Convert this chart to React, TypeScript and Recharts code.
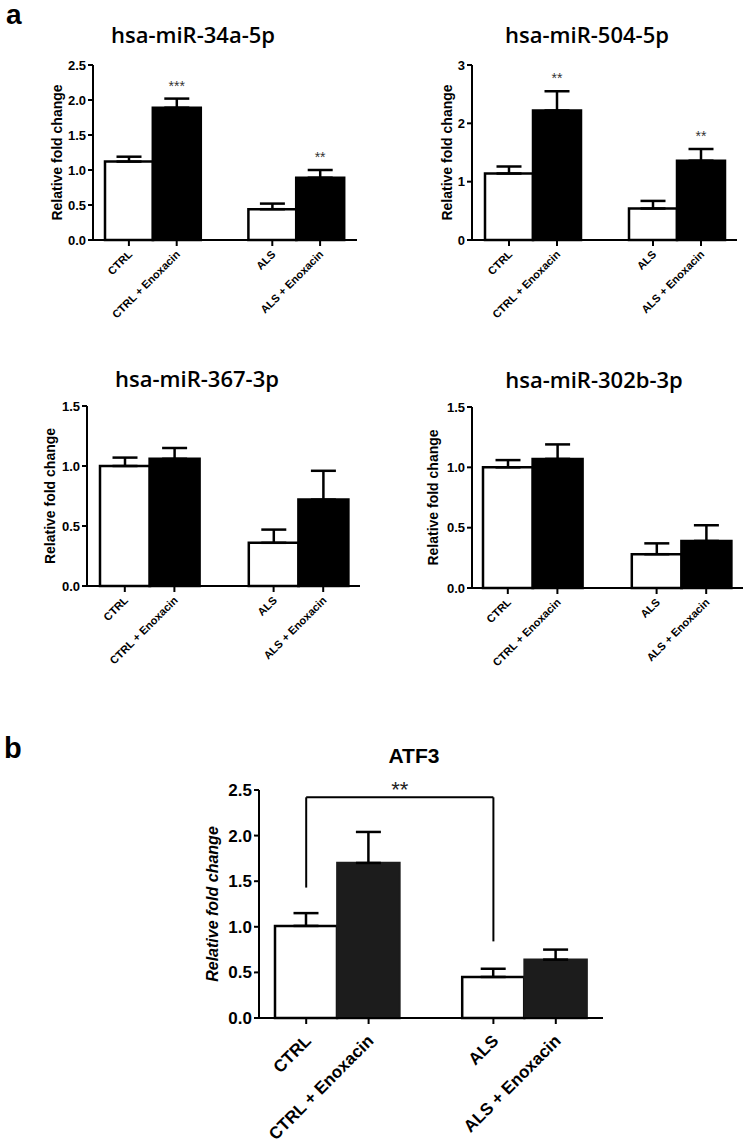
import React from "react";
import { BarChart, Bar, XAxis, YAxis, Cell, ErrorBar, ReferenceLine, ReferenceDot } from "recharts";

// groups on the x axis (same for every panel)
const groups = ["CTRL", "CTRL + Enoxacin", "ALS", "ALS + Enoxacin"];
const treated = [false, true, false, true];

// panel a
const mir34aMean = [1.12, 1.89, 0.44, 0.89];
const mir34aSem = [0.07, 0.13, 0.08, 0.11];
const mir34aStars = ["", "***", "", "**"];

const mir504Mean = [1.14, 2.22, 0.54, 1.36];
const mir504Sem = [0.12, 0.33, 0.13, 0.2];
const mir504Stars = ["", "**", "", "**"];

const mir367Mean = [1.0, 1.06, 0.36, 0.72];
const mir367Sem = [0.07, 0.09, 0.11, 0.24];

const mir302bMean = [1.0, 1.07, 0.28, 0.39];
const mir302bSem = [0.06, 0.12, 0.09, 0.13];

// panel b
const atf3Mean = [1.01, 1.7, 0.45, 0.64];
const atf3Sem = [0.14, 0.34, 0.09, 0.11];
const atf3BracketLevel = 2.42;
const atf3BracketEnds = [1.43, 0.84]; // CTRL side, ALS side
const atf3BracketLabel = "**";

const titles = ["hsa-miR-34a-5p", "hsa-miR-504-5p", "hsa-miR-367-3p", "hsa-miR-302b-3p", "ATF3"];
const yLabel = "Relative fold change";

const GAP = "gap";
const FONT = "Arial, 'Liberation Sans', Helvetica, sans-serif";
const TITLE_FONT = "'Open Sans', 'Noto Sans', sans-serif";

type Row = { name: string; value: number | null; err: number[] | null; star: string; treated: boolean };

function buildRows(mean: number[], sem: number[], stars?: string[]): Row[] {
  const rows = groups.map((name, i) => ({
    name,
    value: mean[i],
    err: [0, sem[i]],
    star: stars ? stars[i] : "",
    treated: treated[i],
  }));
  // empty slot between the CTRL and ALS pairs
  return [rows[0], rows[1], { name: GAP, value: null, err: null, star: "", treated: false }, rows[2], rows[3]];
}

const XTick = (props: any) => {
  const { x, y, payload, size, dx, dy } = props;
  if (!payload || payload.value === GAP) return null;
  return (
    <g transform={`translate(${x},${y})`}>
      <line x1={0} y1={0} x2={0} y2={6} stroke="#000" strokeWidth={2} />
      <text
        transform={`translate(${dx},${dy}) rotate(-45)`}
        textAnchor="end"
        fontFamily={FONT}
        fontWeight={700}
        fontSize={size}
        fill="#000"
      >
        {payload.value}
      </text>
    </g>
  );
};

interface Layout {
  left: number;
  top: number;
  width: number;
  height: number;
  margin: { top: number; right: number; bottom: number; left: number };
  yWidth: number;
  xHeight: number;
  padL: number;
  padR: number;
  yMax: number;
  ticks: number[];
  digits: number;
  tickSize: number;
  labelSize: number;
  xSize: number;
  xdx: number;
  xdy: number;
  italic?: boolean;
  dark: string;
}

const smallTicks15 = [0, 0.5, 1, 1.5];

const layouts: Layout[] = [
  {
    left: 0, top: 0, width: 375, height: 345,
    margin: { top: 65, right: 18, bottom: 0, left: 21 },
    yWidth: 72, xHeight: 105, padL: 12, padR: 13,
    yMax: 2.5, ticks: [0, 0.5, 1, 1.5, 2, 2.5], digits: 1,
    tickSize: 13, labelSize: 14, xSize: 11, xdx: 4, xdy: 15, dark: "#000",
  },
  {
    left: 375, top: 0, width: 375, height: 345,
    margin: { top: 65, right: 13, bottom: 0, left: 47 },
    yWidth: 50, xHeight: 105, padL: 13, padR: 12,
    yMax: 3, ticks: [0, 1, 2, 3], digits: 0,
    tickSize: 13, labelSize: 14, xSize: 11, xdx: 4, xdy: 15, dark: "#000",
  },
  {
    left: 0, top: 320, width: 375, height: 370,
    margin: { top: 86, right: 15, bottom: 0, left: 13 },
    yWidth: 74, xHeight: 104, padL: 13, padR: 12,
    yMax: 1.5, ticks: smallTicks15, digits: 1,
    tickSize: 13, labelSize: 14, xSize: 11, xdx: 4, xdy: 15, dark: "#000",
  },
  {
    left: 375, top: 320, width: 375, height: 370,
    margin: { top: 87, right: 7, bottom: 0, left: 19 },
    yWidth: 78, xHeight: 102, padL: 11, padR: 12,
    yMax: 1.5, ticks: smallTicks15, digits: 1,
    tickSize: 13, labelSize: 14, xSize: 11, xdx: 4, xdy: 15, dark: "#000",
  },
  {
    left: 150, top: 680, width: 470, height: 467,
    margin: { top: 110, right: 17, bottom: 0, left: 15 },
    yWidth: 94, xHeight: 129, padL: 16, padR: 16,
    yMax: 2.5, ticks: [0, 0.5, 1, 1.5, 2, 2.5], digits: 1,
    tickSize: 17, labelSize: 16, xSize: 17, xdx: 6, xdy: 24, italic: true, dark: "#1c1c1c",
  },
];

// title centre x and baseline y on the page
const titlePos = [
  [193, 43],
  [587, 43],
  [197, 387],
  [594, 388],
  [414, 763],
];

const Panel = ({ L, rows, children }: { L: Layout; rows: Row[]; children?: React.ReactNode }) => (
  <div style={{ position: "absolute", left: L.left, top: L.top }}>
    <BarChart width={L.width} height={L.height} data={rows} margin={L.margin} barCategoryGap={0} barGap={0}>
      <XAxis
        dataKey="name"
        interval={0}
        tickSize={0}
        tickMargin={0}
        tickLine={false}
        height={L.xHeight}
        padding={{ left: L.padL, right: L.padR }}
        axisLine={{ stroke: "#000", strokeWidth: 2 }}
        tick={<XTick size={L.xSize} dx={L.xdx} dy={L.xdy} />}
      />
      <YAxis
        width={L.yWidth}
        domain={[0, L.yMax]}
        ticks={L.ticks}
        interval={0}
        tickSize={5}
        tickMargin={2}
        tickFormatter={(v: number) => v.toFixed(L.digits)}
        axisLine={{ stroke: "#000", strokeWidth: 2 }}
        tickLine={{ stroke: "#000", strokeWidth: 2 }}
        tick={{ fill: "#000", fontSize: L.tickSize, fontWeight: 700, fontFamily: FONT }}
        label={{
          value: yLabel,
          angle: -90,
          position: "center",
          fill: "#000",
          fontSize: L.labelSize,
          fontWeight: 700,
          fontStyle: L.italic ? "italic" : "normal",
          fontFamily: FONT,
        }}
      />
      <Bar dataKey="value" isAnimationActive={false} stroke="#000" strokeWidth={2.5}>
        {rows.map((r, i) => (
          <Cell key={i} fill={r.treated ? L.dark : "#fff"} stroke={r.treated ? L.dark : "#000"} />
        ))}
        <ErrorBar dataKey="err" width={12.5} stroke="#000" strokeWidth={2.5} direction="y" isAnimationActive={false} />
      </Bar>
      {rows
        .filter((r) => r.star)
        .map((r) => (
          <ReferenceDot
            key={r.name}
            x={r.name}
            y={(r.value as number) + (r.err as number[])[1]}
            r={0}
            fill="none"
            stroke="none"
            label={{ value: r.star, position: "top", offset: 8, fontSize: 14, fill: "#333", fontFamily: FONT }}
          />
        ))}
      {children}
    </BarChart>
  </div>
);

const panelRows = [
  buildRows(mir34aMean, mir34aSem, mir34aStars),
  buildRows(mir504Mean, mir504Sem, mir504Stars),
  buildRows(mir367Mean, mir367Sem),
  buildRows(mir302bMean, mir302bSem),
  buildRows(atf3Mean, atf3Sem),
];

export default function App() {
  const bl = { stroke: "#000", strokeWidth: 2 };
  return (
    <div style={{ position: "absolute", left: 0, top: 0, width: 750, height: 1147, background: "#fff" }}>
      <svg width={750} height={1147} style={{ position: "absolute", left: 0, top: 0 }}>
        <text x={6} y={24} fontFamily={FONT} fontWeight={700} fontSize={28} fill="#000">a</text>
        <text x={4} y={758} fontFamily={FONT} fontWeight={700} fontSize={29} fill="#000">b</text>
        {titles.map((t, i) => (
          <text
            key={t}
            x={titlePos[i][0]}
            y={titlePos[i][1]}
            textAnchor="middle"
            fontFamily={i === 4 ? FONT : TITLE_FONT}
            fontWeight={i === 4 ? 700 : 600}
            fontSize={i === 4 ? 21 : 22}
            fill="#000"
          >
            {t}
          </text>
        ))}
      </svg>
      {panelRows.slice(0, 4).map((rows, i) => (
        <Panel key={i} L={layouts[i]} rows={rows} />
      ))}
      <Panel L={layouts[4]} rows={panelRows[4]}>
        <ReferenceLine
          segment={[{ x: groups[0], y: atf3BracketEnds[0] }, { x: groups[0], y: atf3BracketLevel }]}
          {...bl}
        />
        <ReferenceLine
          segment={[{ x: groups[2], y: atf3BracketEnds[1] }, { x: groups[2], y: atf3BracketLevel }]}
          {...bl}
        />
        <ReferenceLine
          segment={[{ x: groups[0], y: atf3BracketLevel }, { x: groups[2], y: atf3BracketLevel }]}
          {...bl}
          label={{ value: atf3BracketLabel, position: "top", offset: 0, fontSize: 22, fill: "#222", fontFamily: FONT }}
        />
      </Panel>
    </div>
  );
}
